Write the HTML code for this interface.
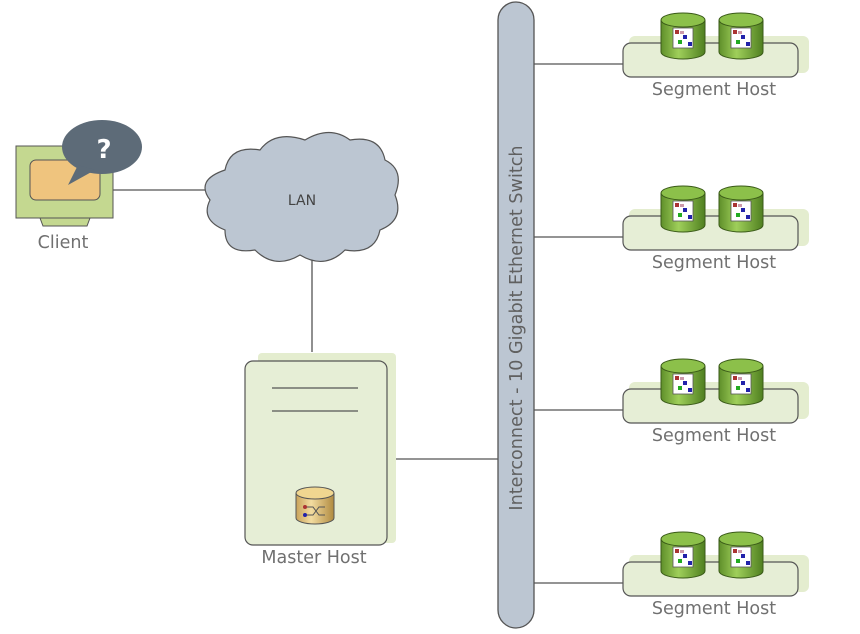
<!DOCTYPE html>
<html><head><style>body{margin:0;background:#fff}svg{display:block}text{font-family:"DejaVu Sans","Liberation Sans",sans-serif}</style></head>
<body>
<svg width="860" height="634" viewBox="0 0 860 634" xmlns="http://www.w3.org/2000/svg">
<defs>
<linearGradient id="cyl" x1="0" x2="1"><stop offset="0" stop-color="#5f8f2a"/><stop offset="0.4" stop-color="#9fcf5a"/><stop offset="1" stop-color="#4f7f20"/></linearGradient>
<linearGradient id="gold" x1="0" x2="1"><stop offset="0" stop-color="#c9a25a"/><stop offset="0.4" stop-color="#f3dca0"/><stop offset="1" stop-color="#b08a40"/></linearGradient>
<g id="seg">
<rect x="629" y="36" width="180" height="37" rx="6" fill="#e4edcf"/>
<rect x="623" y="43" width="175" height="34" rx="8" fill="#e6eed6" stroke="#555" stroke-width="1.2"/>
<g id="cy">
<path d="M661 20 v32 a22 7 0 0 0 44 0 v-32" fill="url(#cyl)" stroke="#3a5a18"/>
<ellipse cx="683" cy="20" rx="22" ry="7" fill="#8cc04a" stroke="#3a5a18"/>
<rect x="673" y="28" width="20" height="20" fill="#fff" stroke="#555" stroke-width="0.8"/>
<rect x="675" y="30" width="4" height="4" fill="#a33"/><rect x="683" y="35" width="4" height="4" fill="#22a"/><rect x="678" y="40" width="4" height="4" fill="#2a2"/><rect x="688" y="42" width="4" height="4" fill="#22a"/><rect x="680" y="31" width="4" height="3" fill="#c9a"/>
</g>
<use href="#cy" transform="translate(58,0)"/>
<text x="714" y="95" font-size="17.5" fill="#707070" text-anchor="middle">Segment Host</text>
<line x1="534" y1="64" x2="623" y2="64" stroke="#555" stroke-width="1.3"/>
</g>
</defs>
<use href="#seg"/>
<use href="#seg" transform="translate(0,173)"/>
<use href="#seg" transform="translate(0,346)"/>
<use href="#seg" transform="translate(0,519)"/>
<rect x="498" y="2" width="36" height="626" rx="18" fill="#bcc6d2" stroke="#555" stroke-width="1.3"/>
<text transform="translate(522,328) rotate(-90)" font-size="17.6" fill="#606060" text-anchor="middle">Interconnect - 10 Gigabit Ethernet Switch</text>
<line x1="113" y1="190" x2="210" y2="190" stroke="#555" stroke-width="1.3"/>
<path d="M40 218 h50 l-3 8 h-44 z" fill="#c4d890" stroke="#555"/>
<rect x="16" y="146" width="97" height="72" fill="#c4d890" stroke="#555"/>
<rect x="30" y="160" width="70" height="40" rx="6" fill="#efc47e" stroke="#555"/>
<ellipse cx="102" cy="147" rx="40" ry="27" fill="#5d6b78"/>
<path d="M78 165 L68 185 L95 170 z" fill="#5d6b78"/>
<text x="104" y="158" font-size="26" font-weight="bold" fill="#fff" text-anchor="middle">?</text>
<text x="63" y="248" font-size="17.5" fill="#707070" text-anchor="middle">Client</text>
<line x1="312" y1="260" x2="312" y2="352" stroke="#555" stroke-width="1.3"/>
<path d="M225 170 q5 -25 35 -20 q15 -20 45 -10 q25 -15 45 0 q30 -5 35 20 q20 10 10 35 q10 25 -15 35 q-5 25 -35 20 q-20 20 -45 5 q-25 15 -45 -5 q-30 5 -30 -20 q-25 -10 -15 -30 q-15 -20 15 -30 z" fill="#bcc6d2" stroke="#555" stroke-width="1.2"/>
<text x="302" y="205" font-size="14" fill="#444" text-anchor="middle">LAN</text>
<line x1="396" y1="459" x2="498" y2="459" stroke="#555" stroke-width="1.3"/>
<rect x="258" y="353" width="138" height="190" rx="4" fill="#e4edcf"/>
<rect x="245" y="361" width="142" height="184" rx="8" fill="#e6eed6" stroke="#555" stroke-width="1.2"/>
<line x1="272" y1="388" x2="358" y2="388" stroke="#555" stroke-width="1.3"/>
<line x1="272" y1="411" x2="358" y2="411" stroke="#555" stroke-width="1.3"/>
<path d="M296 493 v25 a19 6 0 0 0 38 0 v-25" fill="url(#gold)" stroke="#555"/>
<ellipse cx="315" cy="493" rx="19" ry="6" fill="#f0d690" stroke="#555"/>
<circle cx="305" cy="507" r="2" fill="#a33"/><circle cx="305" cy="515" r="2" fill="#22a"/>
<path d="M307 507 h6 l6 8 h6 M307 515 h6 l6 -8 h6" stroke="#555" fill="none"/>
<text x="314" y="563" font-size="17.5" fill="#707070" text-anchor="middle">Master Host</text>
</svg>
</body></html>
